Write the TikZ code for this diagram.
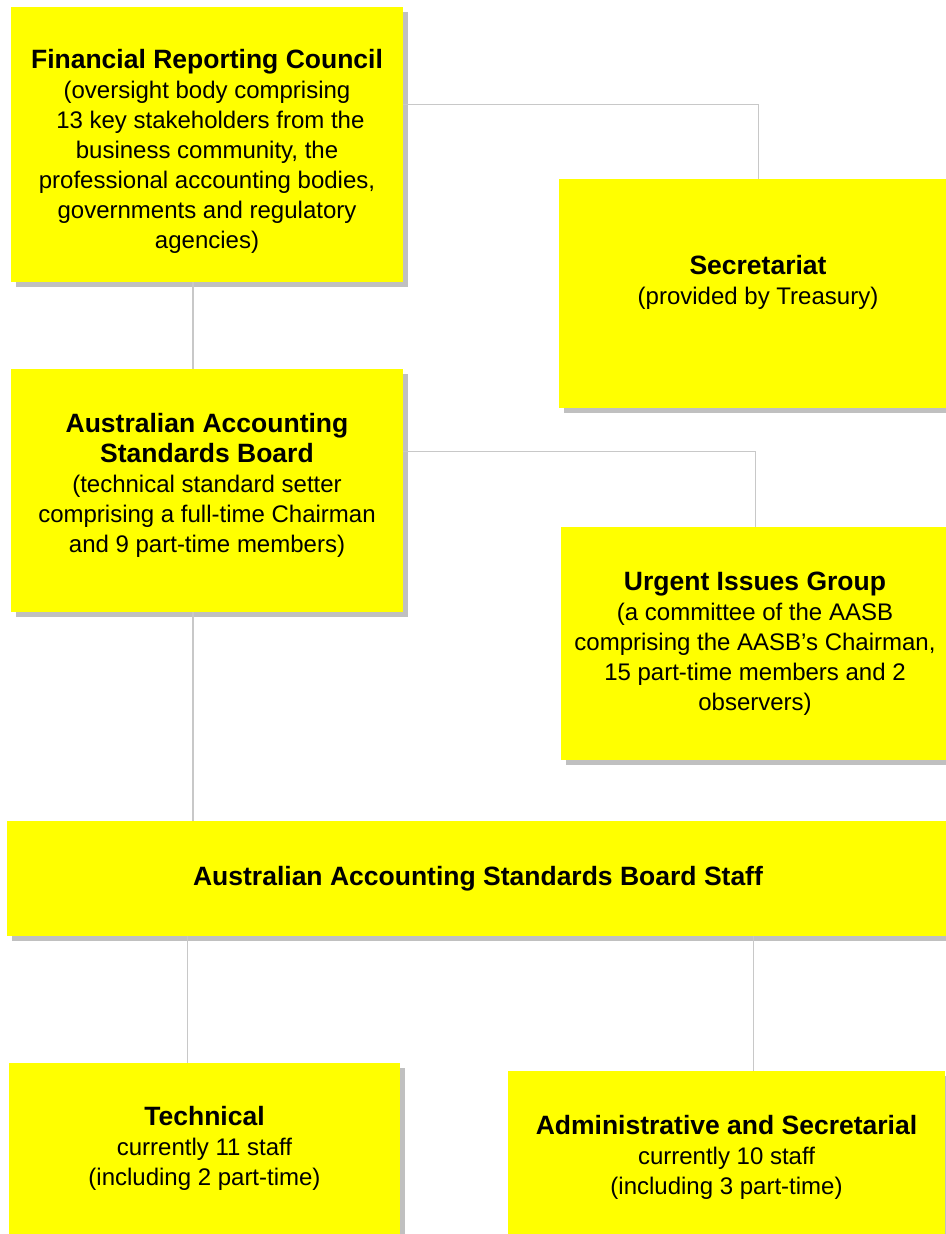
\documentclass[tikz,border=0pt]{standalone}
\usepackage{fontspec}
\setmainfont{Liberation Sans}[Ligatures=ResetAll]
\usetikzlibrary{shadows}

\definecolor{boxyellow}{RGB}{255,255,0}
\definecolor{shadegray}{RGB}{192,192,192}
\definecolor{linkgray}{RGB}{200,200,200}
\newcommand{\orgtitle}[1]{{\fontsize{26.5}{31}\selectfont\bfseries #1}}

\begin{document}
\begin{tikzpicture}[x=1pt, y=-1pt,
    orgbox/.style={fill=boxyellow, align=center, inner sep=0pt,
      font=\fontsize{24}{30}\selectfont,
      drop shadow={shadow xshift=5pt, shadow yshift=-5pt, fill=shadegray, opacity=1}},
    link/.style={draw=linkgray, line width=1pt}]
  \fill[white] (0,0) rectangle (945,1234);
  \useasboundingbox (0,0) rectangle (945,1234);

  % council and its secretariat
  \node[orgbox, minimum width=392pt, minimum height=275pt] (frc) at (207,144.5)
    {\orgtitle{\rule{0pt}{32pt}Financial Reporting Council}\\(oversight body comprising\\\hspace*{6.7pt}13 key stakeholders from the\\business community, the\\professional accounting bodies,\\governments and regulatory\\agencies)};
  \node[orgbox, minimum width=398pt, minimum height=229pt] (sec) at (758,293.5)
    {\orgtitle{Secretariat}\\(provided by Treasury)\rule[-27pt]{0pt}{27pt}};

  % board and committee
  \node[orgbox, minimum width=392pt, minimum height=243pt] (aasb) at (207,490.5)
    {\orgtitle{Australian Accounting}\\\orgtitle{Standards Board}\\(technical standard setter\\comprising a full-time Chairman\\and 9 part-time members)\rule[-16pt]{0pt}{16pt}};
  \node[orgbox, minimum width=388pt, minimum height=233pt] (uig) at (755,643.5)
    {\orgtitle{Urgent Issues Group}\\(a committee of the AASB\\comprising the AASB's Chairman,\\15 part-time members and 2\\observers)};

  % staff
  \node[orgbox, minimum width=942pt, minimum height=115pt] (staff) at (478,878.5)
    {\orgtitle{Australian Accounting Standards Board Staff}};
  \node[orgbox, minimum width=391pt, minimum height=171pt] (tech) at (204.5,1148.5)
    {\orgtitle{Technical}\\currently 11 staff\\(including 2 part-time)};
  \node[orgbox, minimum width=437pt, minimum height=172pt] (admin) at (726.5,1157)
    {\orgtitle{Administrative and Secretarial}\\currently 10 staff\\(including 3 part-time)};

  \coordinate (spine) at (193,0);
  \coordinate (techdrop) at (187,0);
  \coordinate (admindrop) at (753,0);
  \draw[link] (frc.east |- 0,104) -| (sec.north);
  \draw[link, line width=1.6pt] (frc.south -| spine) -- (aasb.north -| spine);
  \draw[link] (aasb.east |- 0,451) -| (uig.north);
  \draw[link, line width=1.6pt] (aasb.south -| spine) -- (staff.north -| spine);
  \draw[link] (staff.south -| techdrop) -- (tech.north -| techdrop);
  \draw[link] (staff.south -| admindrop) -- (admin.north -| admindrop);
\end{tikzpicture}
\end{document}
